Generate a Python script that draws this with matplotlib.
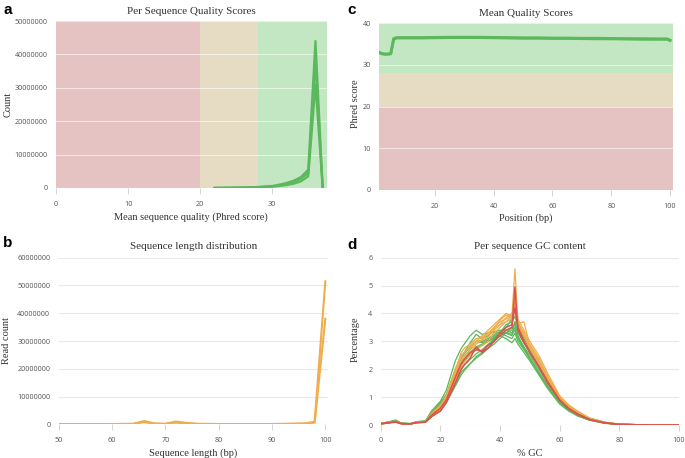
import matplotlib
matplotlib.use("Agg")
import matplotlib.pyplot as plt
from matplotlib.ticker import FixedLocator

# ---------------- data ----------------
# a: per sequence quality scores (counts)
qual_x = [22, 24, 26, 28, 30, 31, 32, 33, 34, 35, 36, 37]
qual_s1 = [0.02e6, 0.05e6, 0.10e6, 0.20e6, 0.40e6, 0.60e6, 0.90e6, 1.3e6, 2.0e6, 3.5e6, 31e6, 0]
qual_s2 = [0.03e6, 0.06e6, 0.12e6, 0.25e6, 0.50e6, 0.80e6, 1.2e6, 1.8e6, 2.8e6, 4.5e6, 38e6, 0]
qual_s3 = [0.03e6, 0.07e6, 0.14e6, 0.30e6, 0.60e6, 1.0e6, 1.5e6, 2.2e6, 3.3e6, 5.5e6, 44e6, 0]
qual_series = [qual_s1, qual_s2, qual_s3]

# b: sequence length distribution
len_x = [50, 55, 60, 64, 66, 68, 70, 72, 74, 76, 80, 90, 96, 98, 100]
len_s1 = [0.1e6, 0.1e6, 0.1e6, 0.2e6, 1.2e6, 0.3e6, 0.2e6, 1.0e6, 0.5e6, 0.2e6, 0.1e6, 0.1e6, 0.3e6, 0.9e6, 51.5e6]
len_s2 = [0.05e6, 0.05e6, 0.05e6, 0.1e6, 0.8e6, 0.2e6, 0.1e6, 0.6e6, 0.3e6, 0.1e6, 0.05e6, 0.05e6, 0.2e6, 0.6e6, 38e6]
len_series = [len_s1, len_s2]

# c: mean quality scores
pos_x = [1, 2, 3, 4, 5, 6, 7, 8, 9, 10, 15, 20, 25, 30, 35, 40, 45, 50, 55, 60,
         65, 70, 75, 80, 85, 90, 95, 99, 100]
mq_s1 = [33.0, 32.7, 32.6, 32.6, 32.7, 36.3, 36.5, 36.5, 36.5, 36.5, 36.5, 36.55, 36.6, 36.6, 36.6,
         36.55, 36.5, 36.45, 36.45, 36.4, 36.4, 36.35, 36.35, 36.3, 36.25, 36.25, 36.2, 36.2, 35.9]
mq_s2 = [32.9, 32.6, 32.5, 32.5, 32.6, 36.1, 36.4, 36.4, 36.4, 36.4, 36.4, 36.45, 36.5, 36.5, 36.5,
         36.45, 36.4, 36.35, 36.35, 36.3, 36.3, 36.25, 36.2, 36.2, 36.15, 36.1, 36.1, 36.1, 35.8]
mq_series = [mq_s1, mq_s2]

# d: per sequence GC content (%)
gc_x = [0, 3, 5, 7, 10, 12, 15, 17, 20, 22, 25, 27, 28, 30, 32, 34, 36, 38, 40, 42, 44, 45, 46,
        48, 50, 53, 56, 60, 63, 66, 70, 75, 80, 90, 100]
gc_green = [
    [0.05, 0.12, 0.18, 0.06, 0.05, 0.12, 0.15, 0.5, 0.85, 1.25, 2.3, 2.75, 2.9, 3.2, 3.4, 3.25, 3.3, 3.35, 3.3, 3.2, 3.1, 3.3, 3.0, 2.7, 2.4, 1.9, 1.4, 0.8, 0.55, 0.35, 0.2, 0.07, 0.02, 0, 0],
    [0.04, 0.1, 0.15, 0.05, 0.04, 0.1, 0.13, 0.45, 0.8, 1.1, 2.0, 2.5, 2.6, 2.95, 3.25, 3.1, 3.2, 3.35, 3.4, 3.4, 3.3, 3.5, 3.1, 2.8, 2.5, 2.0, 1.5, 0.9, 0.6, 0.4, 0.2, 0.08, 0.02, 0, 0],
    [0.03, 0.08, 0.12, 0.05, 0.04, 0.08, 0.1, 0.3, 0.5, 0.8, 1.4, 1.8, 1.95, 2.2, 2.45, 2.6, 2.85, 3.1, 3.3, 3.5, 3.8, 4.5, 3.6, 3.1, 2.7, 2.2, 1.6, 0.95, 0.65, 0.45, 0.22, 0.09, 0.03, 0, 0],
    [0.05, 0.1, 0.14, 0.06, 0.05, 0.1, 0.12, 0.35, 0.6, 0.9, 1.6, 2.1, 2.3, 2.55, 2.75, 2.85, 3.0, 3.15, 3.3, 3.6, 3.7, 3.9, 3.5, 3.0, 2.6, 2.1, 1.55, 0.9, 0.62, 0.42, 0.2, 0.08, 0.02, 0, 0],
    [0.06, 0.12, 0.16, 0.07, 0.05, 0.11, 0.14, 0.4, 0.7, 1.0, 1.9, 2.4, 2.55, 2.8, 3.0, 2.95, 3.05, 3.2, 3.3, 3.3, 3.25, 3.4, 3.1, 2.75, 2.35, 1.85, 1.35, 0.8, 0.52, 0.34, 0.18, 0.07, 0.02, 0, 0],
    [0.04, 0.09, 0.13, 0.05, 0.04, 0.09, 0.11, 0.3, 0.55, 0.85, 1.45, 1.9, 2.0, 2.2, 2.4, 2.55, 2.75, 2.9, 3.1, 3.3, 3.5, 3.6, 3.4, 3.1, 2.8, 2.3, 1.7, 1.0, 0.7, 0.48, 0.25, 0.1, 0.03, 0, 0],
    [0.05, 0.11, 0.15, 0.06, 0.05, 0.1, 0.13, 0.42, 0.75, 1.05, 1.8, 2.3, 2.45, 2.7, 3.0, 3.0, 3.1, 3.25, 3.35, 3.3, 3.2, 3.7, 3.2, 2.8, 2.4, 1.9, 1.4, 0.85, 0.58, 0.38, 0.2, 0.08, 0.02, 0, 0],
    [0.04, 0.1, 0.14, 0.05, 0.04, 0.1, 0.12, 0.38, 0.7, 1.0, 1.7, 2.2, 2.35, 2.6, 2.8, 2.9, 3.0, 3.1, 3.2, 3.1, 2.95, 3.1, 2.9, 2.6, 2.3, 1.8, 1.3, 0.75, 0.5, 0.32, 0.17, 0.06, 0.02, 0, 0],
    [0.05, 0.1, 0.13, 0.05, 0.05, 0.1, 0.12, 0.35, 0.62, 0.92, 1.55, 2.0, 2.15, 2.35, 2.55, 2.7, 2.9, 3.05, 3.2, 3.3, 3.4, 3.7, 3.3, 2.95, 2.65, 2.15, 1.6, 0.95, 0.66, 0.45, 0.23, 0.09, 0.03, 0, 0],
]
gc_orange = [
    [0.04, 0.08, 0.12, 0.05, 0.04, 0.09, 0.12, 0.35, 0.6, 0.95, 1.7, 2.2, 2.35, 2.6, 2.9, 3.05, 3.3, 3.5, 3.7, 3.8, 3.9, 5.6, 3.7, 3.2, 2.8, 2.2, 1.6, 0.95, 0.62, 0.42, 0.2, 0.08, 0.02, 0, 0],
    [0.04, 0.09, 0.12, 0.05, 0.04, 0.09, 0.12, 0.4, 0.7, 1.05, 2.0, 2.5, 2.6, 2.8, 3.0, 3.2, 3.4, 3.6, 3.8, 4.0, 3.9, 4.4, 3.6, 3.2, 2.8, 2.3, 1.65, 0.95, 0.65, 0.44, 0.22, 0.09, 0.03, 0, 0],
    [0.05, 0.1, 0.13, 0.05, 0.04, 0.1, 0.13, 0.38, 0.65, 1.0, 1.9, 2.6, 2.75, 2.9, 3.1, 3.15, 3.3, 3.45, 3.6, 3.7, 3.8, 4.2, 3.7, 3.3, 2.9, 2.4, 1.75, 1.0, 0.7, 0.48, 0.24, 0.1, 0.03, 0, 0],
    [0.03, 0.08, 0.11, 0.04, 0.03, 0.08, 0.1, 0.3, 0.55, 0.9, 1.6, 2.1, 2.25, 2.5, 2.7, 2.85, 3.0, 3.3, 3.5, 3.7, 3.9, 4.6, 3.8, 3.4, 3.0, 2.5, 1.85, 1.05, 0.72, 0.5, 0.25, 0.1, 0.03, 0, 0],
    [0.04, 0.09, 0.12, 0.05, 0.04, 0.09, 0.12, 0.36, 0.62, 0.98, 1.75, 2.3, 2.45, 2.7, 3.0, 3.05, 3.15, 3.4, 3.6, 3.85, 4.0, 4.3, 3.65, 3.7, 2.85, 2.3, 1.7, 0.98, 0.66, 0.45, 0.22, 0.09, 0.02, 0, 0],
    [0.05, 0.1, 0.14, 0.05, 0.04, 0.1, 0.12, 0.4, 0.68, 1.0, 1.85, 2.45, 2.6, 2.85, 3.1, 3.1, 3.25, 3.5, 3.75, 3.95, 3.85, 4.1, 3.6, 3.2, 2.75, 2.2, 1.6, 0.92, 0.62, 0.42, 0.2, 0.08, 0.02, 0, 0],
]
gc_red = [
    [0.04, 0.08, 0.1, 0.04, 0.04, 0.08, 0.1, 0.3, 0.5, 0.8, 1.5, 2.0, 2.15, 2.4, 2.8, 2.6, 2.75, 3.0, 3.2, 3.4, 3.5, 4.95, 3.4, 2.95, 2.6, 2.1, 1.55, 0.9, 0.6, 0.4, 0.2, 0.08, 0.02, 0, 0],
    [0.05, 0.09, 0.12, 0.05, 0.04, 0.09, 0.11, 0.35, 0.6, 0.9, 1.7, 2.2, 2.35, 2.6, 2.7, 2.65, 2.85, 3.0, 3.3, 3.5, 3.6, 4.2, 3.5, 3.0, 2.6, 2.1, 1.5, 0.88, 0.58, 0.38, 0.19, 0.08, 0.02, 0, 0],
]

# ---------------- style ----------------
GREEN = "#5cb85c"
ORANGE = "#f0ad4e"
RED = "#d9534f"
BAND_R = "#e6c3c3"
BAND_O = "#e6dcc3"
BAND_G = "#c3e6c3"
SERIF = ["Liberation Serif", "DejaVu Serif"]
TICKFONT = ["Open Sans", "DejaVu Sans"]
TICK_FS = 5.2
TITLE_FS = 8
LABEL_FS = 7.5
W, H = 685.0, 458.0

fig = plt.figure(figsize=(6.85, 4.58), dpi=100)


def px_axes(left, right, top, bottom):
    return fig.add_axes([left / W, (H - bottom) / H, (right - left) / W, (bottom - top) / H])


def ftext(x, y, s, **kw):
    fig.text(x / W, 1 - y / H, s, ha="center", va="center", fontfamily=SERIF,
             fontsize=LABEL_FS, color="#333333", **kw)


def style(ax, title, grid_color, title_pad):
    for s in ax.spines.values():
        s.set_visible(False)
    ax.tick_params(axis="y", length=0, labelsize=TICK_FS, labelcolor="#555555", pad=6)
    ax.tick_params(axis="x", length=4, width=0.6, color="#cccccc", labelsize=TICK_FS,
                   labelcolor="#555555", pad=5)
    for lab in ax.get_xticklabels() + ax.get_yticklabels():
        lab.set_fontfamily(TICKFONT)
    ax.yaxis.grid(True, color=grid_color, lw=0.8)
    ax.xaxis.grid(False)
    ax.set_axisbelow(True)
    ax.set_title(title, fontfamily=SERIF, fontsize=TITLE_FS, pad=title_pad, color="#333333")


def ylabels_plain(ax, ticks):
    ax.yaxis.set_major_locator(FixedLocator(ticks))
    ax.set_yticklabels([str(int(t)) for t in ticks])


# ---- panel a ----
ax_a = px_axes(56, 327, 21, 188)
ax_a.set_xlim(0, 37.6)
ax_a.set_ylim(0, 50e6)
ax_a.axvspan(0, 20, color=BAND_R, lw=0, zorder=0)
ax_a.axvspan(20, 28, color=BAND_O, lw=0, zorder=0)
ax_a.axvspan(28, 37.6, color=BAND_G, lw=0, zorder=0)
for s in qual_series:
    ax_a.plot(qual_x, s, color=GREEN, lw=1.6, zorder=3)
ax_a.set_xticks([0, 10, 20, 30])
ylabels_plain(ax_a, [0, 10e6, 20e6, 30e6, 40e6, 50e6])
style(ax_a, "Per Sequence Quality Scores", "#f4f4f4", 5)
ax_a.yaxis.grid(True, color="white", lw=0.7, alpha=0.6, zorder=1)
ftext(191, 217, "Mean sequence quality (Phred score)")
ftext(8, 104, "Count", rotation=90)

# ---- panel c ----
ax_c = px_axes(379, 673, 23, 190)
ax_c.set_xlim(1, 101)
ax_c.set_ylim(0, 40)
ax_c.axhspan(28, 40, color=BAND_G, lw=0, zorder=0)
ax_c.axhspan(20, 28, color=BAND_O, lw=0, zorder=0)
ax_c.axhspan(0, 20, color=BAND_R, lw=0, zorder=0)
for s in mq_series:
    ax_c.plot(pos_x, s, color=GREEN, lw=2.0, zorder=3)
ax_c.set_xticks([20, 40, 60, 80, 100])
ylabels_plain(ax_c, [0, 10, 20, 30, 40])
style(ax_c, "Mean Quality Scores", "#f4f4f4", 5)
ax_c.yaxis.grid(True, color="white", lw=0.7, alpha=0.6, zorder=1)
ftext(526, 218, "Position (bp)")
ftext(355, 104, "Phred score", rotation=90)

# ---- panel b ----
ax_b = px_axes(58.7, 328, 257.7, 424.3)
ax_b.set_xlim(50, 100.5)
ax_b.set_ylim(0, 60e6)
for s in len_series:
    ax_b.plot(len_x, s, color=ORANGE, lw=1.5, zorder=3)
ax_b.set_xticks([50, 60, 70, 80, 90, 100])
ylabels_plain(ax_b, [0, 10e6, 20e6, 30e6, 40e6, 50e6, 60e6])
style(ax_b, "Sequence length distribution", "#e8e8e8", 6)
ftext(193, 453, "Sequence length (bp)")
ftext(7, 341, "Read count", rotation=90)

# ---- panel d ----
ax_d = px_axes(380.7, 679, 257.7, 425)
ax_d.set_xlim(0, 100)
ax_d.set_ylim(0, 6)
for s in gc_green:
    ax_d.plot(gc_x, s, color=GREEN, lw=0.9, zorder=3)
for s in gc_orange:
    ax_d.plot(gc_x, s, color=ORANGE, lw=0.9, zorder=4)
for s in gc_red:
    ax_d.plot(gc_x, s, color=RED, lw=1.1, zorder=5)
ax_d.set_xticks([0, 20, 40, 60, 80, 100])
ylabels_plain(ax_d, [0, 1, 2, 3, 4, 5, 6])
style(ax_d, "Per sequence GC content", "#e8e8e8", 6)
ftext(530, 453, "% GC")
ftext(355, 339, "Percentage", rotation=90)

# ---- panel letters ----
for letter, x, y in [("a", 3, 10), ("b", 3, 243), ("c", 347, 10), ("d", 347, 245)]:
    fig.text(x / W, 1 - y / H, letter, fontsize=11, fontweight="bold",
             fontfamily=["Liberation Sans", "DejaVu Sans"], va="center", ha="left")

fig.savefig("out.png", dpi=100)
